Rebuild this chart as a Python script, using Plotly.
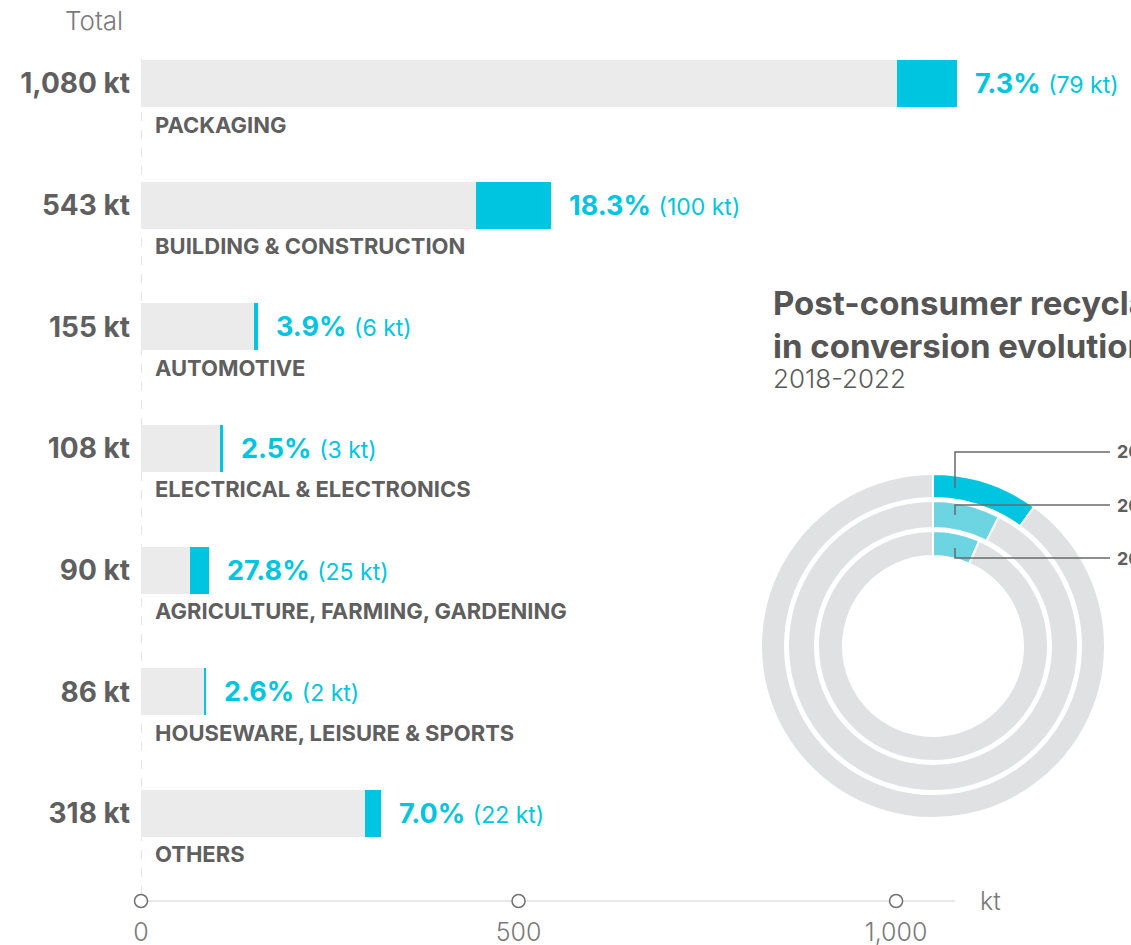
import plotly.graph_objects as go

# ---------------- data ----------------
categories = ["PACKAGING", "BUILDING & CONSTRUCTION", "AUTOMOTIVE",
              "ELECTRICAL & ELECTRONICS", "AGRICULTURE, FARMING, GARDENING",
              "HOUSEWARE, LEISURE & SPORTS", "OTHERS"]
totals_kt = [1080, 543, 155, 108, 90, 86, 318]
recycled_kt = [79, 100, 6, 3, 25, 2, 22]
recycled_pct = [7.3, 18.3, 3.9, 2.5, 27.8, 2.6, 7.0]
x_ticks = [0, 500, 1000]

ring_years = ["2022", "2020", "2018"]          # outer -> inner
ring_share = [10.0, 7.5, 6.6]                   # % post-consumer recyclates

# ---------------- style ----------------
W, H = 1131, 945
FONT = "Inter, Poppins, Lato, sans-serif"
GREY_TXT = "#5f5f5f"
LIGHT_TXT = "#7a7a7a"
CYAN = "#00c5e0"
CYAN_LIGHT = "#6dd5e1"
BAR_GREY = "#ebebeb"
RING_GREY = "#e0e1e3"
PX_PER_KT = (955 - 141) / 1078.0
X_MAX = 1200

def px(x):
    return x / W

def py(y):
    return 1 - y / H

fig = go.Figure()

others = [t - r for t, r in zip(totals_kt, recycled_kt)]
fig.add_trace(go.Bar(y=categories, x=others, orientation="h", marker_color=BAR_GREY,
                     width=0.386, hoverinfo="skip", showlegend=False))
fig.add_trace(go.Bar(y=categories, x=recycled_kt, orientation="h", marker_color=CYAN,
                     width=0.386, hoverinfo="skip", showlegend=False))

# tick circles on the x axis
fig.add_trace(go.Scatter(x=x_ticks, y=[0] * len(x_ticks), xaxis="x", yaxis="y2",
                         mode="markers", cliponaxis=False, showlegend=False, hoverinfo="skip",
                         marker=dict(symbol="circle", size=13, color="white",
                                     line=dict(color="#707070", width=1.5))))

# percent labels
annotations = []
for cat, tot, rec, pct in zip(categories, totals_kt, recycled_kt, recycled_pct):
    annotations.append(dict(
        x=tot, y=cat, xref="x", yref="y", xanchor="left", yanchor="middle",
        xshift=16, showarrow=False,
        text=f"<b>{pct:.1f}%</b> <span style='font-size:23px'>({rec} kt)</span>",
        font=dict(family=FONT, size=27, color=CYAN)))
    annotations.append(dict(
        x=0, y=cat, xref="x", yref="y", xanchor="left", yanchor="middle",
        xshift=12, yshift=-41, showarrow=False,
        text=f"<b>{cat}</b>",
        font=dict(family=FONT, size=22, color=GREY_TXT)))

annotations.append(dict(x=px(125), y=py(20), xref="paper", yref="paper",
                        xanchor="right", yanchor="middle", showarrow=False, text="Total",
                        font=dict(family=FONT, size=26, color=LIGHT_TXT, weight=300)))
annotations.append(dict(x=px(978), y=py(901), xref="paper", yref="paper",
                        xanchor="left", yanchor="middle", showarrow=False, text="kt",
                        font=dict(family=FONT, size=25, color=LIGHT_TXT, weight=300)))

# donut rings
cx, cy = 933, 646
ring_outer = [172, 145, 115]
ring_inner = [148, 118, 90]
ring_colors = [CYAN, CYAN_LIGHT, CYAN_LIGHT]
for year, share, ro, ri, col in zip(ring_years, ring_share, ring_outer, ring_inner, ring_colors):
    fig.add_trace(go.Pie(
        values=[share, 100 - share], labels=[f"{year} recycled", f"{year} other"],
        sort=False, direction="clockwise", rotation=0, hole=ri / ro,
        marker=dict(colors=[col, RING_GREY], line=dict(color="white", width=2)),
        textinfo="none", hoverinfo="skip", showlegend=False,
        domain=dict(x=[px(cx - ro), px(cx + ro)], y=[py(cy + ro), py(cy - ro)])))

# leader lines and year labels
leaders = [(488, 452), (515, 505), (548, 558)]
shapes = []
for (y0, y1), year in zip(leaders, ring_years):
    shapes.append(dict(type="path", xref="paper", yref="paper",
                       path=f"M {px(955)} {py(y0)} L {px(955)} {py(y1)} L {px(1110)} {py(y1)}",
                       line=dict(color="#6a6a6a", width=1.5)))
    annotations.append(dict(x=px(1115), y=py(y1), xref="paper", yref="paper",
                            xanchor="left", yanchor="middle", showarrow=False,
                            text=f"<b>{year}</b>",
                            font=dict(family=FONT, size=18, color=GREY_TXT)))

annotations.append(dict(x=px(771), y=py(324), xref="paper", yref="paper",
                        xanchor="left", yanchor="middle", showarrow=False, align="left",
                        text="<b>Post-consumer recyclates use<br>in conversion evolution</b>",
                        font=dict(family=FONT, size=33, color="#555555")))
annotations.append(dict(x=px(771), y=py(378), xref="paper", yref="paper",
                        xanchor="left", yanchor="middle", showarrow=False,
                        text="2018-2022",
                        font=dict(family=FONT, size=26, color="#5a5a5a", weight=300)))

# dashed zero line
shapes.append(dict(type="line", xref="x", yref="paper", x0=0, x1=0,
                   y0=py(895), y1=py(50), line=dict(color="#d4d4d4", width=1.2, dash="dash"),
                   layer="below"))
# x axis baseline
shapes.append(dict(type="line", xref="paper", yref="paper", x0=px(134), x1=px(955),
                   y0=py(901), y1=py(901), line=dict(color="#d0d0d0", width=1.2),
                   layer="below"))

fig.update_layout(
    template="none",
    width=W, height=H,
    margin=dict(l=0, r=0, t=0, b=0),
    paper_bgcolor="white", plot_bgcolor="rgba(0,0,0,0)",
    barmode="stack",
    font=dict(family=FONT, color=GREY_TXT),
    xaxis=dict(domain=[px(141), px(141 + X_MAX * PX_PER_KT)], range=[0, X_MAX],
               tickvals=x_ticks, tickformat=",", showgrid=False, zeroline=False,
               showline=False, ticks="", ticklabelstandoff=14,
               tickfont=dict(family=FONT, size=25, color=LIGHT_TXT, weight=300),
               anchor="y", automargin=False, fixedrange=True),
    yaxis=dict(domain=[py(901), py(22.7)], range=[6.72, -0.5], type="category",
               categoryorder="array", categoryarray=categories,
               tickvals=categories, ticktext=[f"<b>{t:,} kt</b>" for t in totals_kt],
               tickfont=dict(family=FONT, size=28, color=GREY_TXT),
               showgrid=False, zeroline=False, showline=False, ticks="",
               ticklabelstandoff=10, automargin=False, fixedrange=True),
    yaxis2=dict(domain=[py(901), py(22.7)], range=[0, 1], overlaying="y",
                visible=False, fixedrange=True),
    annotations=annotations,
    shapes=shapes,
)

fig.write_html("out.html", config={"displayModeBar": False},
               post_script="document.body.style.margin='0';document.body.style.overflow='hidden';")
